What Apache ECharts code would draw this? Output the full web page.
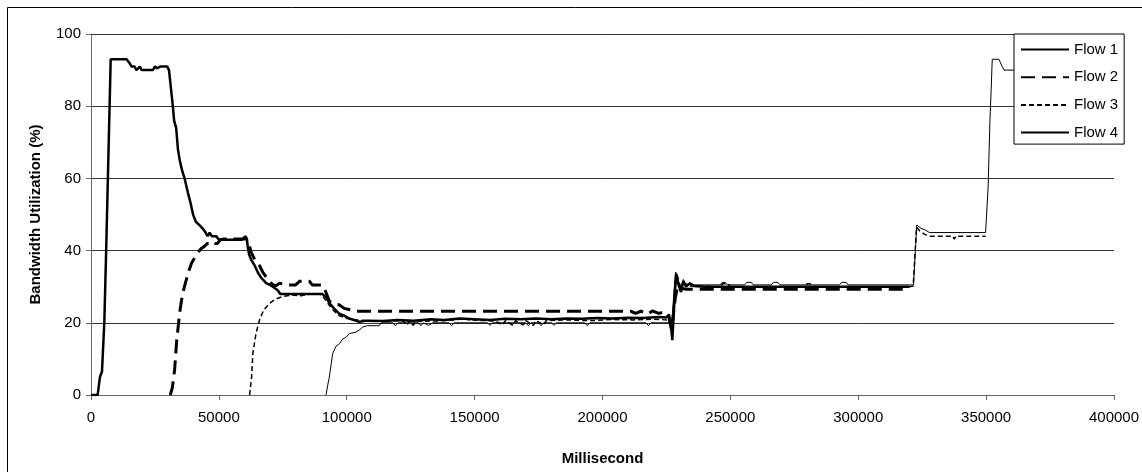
<!DOCTYPE html>
<html>
<head>
<meta charset="utf-8">
<script src="https://cdn.jsdelivr.net/npm/echarts@6/dist/echarts.min.js"></script>
<style>
  html, body { margin: 0; padding: 0; background: #fff; }
  #chart { width: 1142px; height: 472px; }
</style>
</head>
<body>
<div id="chart"></div>
<script>
// Bandwidth utilization (%) per flow over time (ms)
const flowNames = ['Flow 1', 'Flow 2', 'Flow 3', 'Flow 4'];
const xTicks = { min: 0, max: 400000, step: 50000 };
const yTicks = { min: 0, max: 100, step: 20 };

const flow1 = [
  [0,0],[2600,0],[3500,5],[4300,6.5],[5200,20],[6000,42],[7700,93],[13900,93],[15000,92],
  [15900,91],[17000,91],[17800,90],[18500,90],[19100,91],[19800,90],[24200,90],[25000,91],
  [25800,90.5],[26400,90],[27200,91],[29800,91],[30500,90],[31200,90],[32000,80],[32500,76],
  [33300,74],[34000,68],[34700,65],[35700,62],[36600,60],[37900,56],[39000,53],[39900,50],
  [41000,48],[42500,47],[43800,46],[44800,45],[45600,44],[46400,45],[47200,44],[49000,44],
  [50000,43],[59000,43],[59500,43.5],[60500,44],[61000,43],[61300,41],[61800,39],[62600,37.5],
  [63900,36],[65200,34],[66500,32.5],[68500,31],[70000,30.5],[71100,30],[73000,29],[74000,28],
  [90400,28],[92000,27],[93200,25.5],[95000,24],[97100,22.5],[99000,22],[101000,21.2],
  [104900,20.3],[108000,20.6],[114000,20.5],[120000,20.8],[126000,20.6],[133000,21],
  [138000,20.8],[144000,21.2],[150000,21],[156000,20.8],[162000,21.1],[168000,21],
  [174000,21.2],[180000,21],[186000,21.2],[192000,21.1],[198000,21.3],[204000,21.2],
  [210000,21.4],[216000,21.3],[222000,21.6],[225000,21.5],[226000,22.3],[226800,19],
  [227300,15.2],[228200,27],[228800,33.5],[229500,31],[230700,28.5],[231600,31.5],
  [232700,30],[234200,31],[235500,30.2],[240000,30],[270000,30],[300000,30],[320000,30]
];

const flow2 = [
  [31000,0],[31800,2],[32700,7],[33500,15],[34700,23],[35800,28],[37300,32],[38300,34.5],
  [39300,36.5],[40500,38],[41800,39.5],[43000,40.5],[44400,41.2],[45500,42],[46500,42],
  [47700,42.5],[48500,42],[49500,42],[50500,43],[52000,43.2],[60800,43.2],[61500,42.5],
  [62650,39.5],[64000,37.5],[65900,35.8],[67200,34],[69100,32],[71100,30.5],[72500,30.3],
  [73700,31],[76000,30.5],[80000,30.5],[81500,31.5],[85400,31.5],[86500,30.5],[90000,30.5],
  [91000,30],[93200,26],[95000,25.2],[97000,25],[99000,24],[102100,23.5],[103500,23.2],
  [211000,23.2],[213000,22.6],[215000,23.2],[218000,22.5],[219500,23.3],[222000,22.6],
  [224000,23],[226000,21.5],[227000,18],[228500,27],[229500,30.5],[231000,29.5],
  [233000,29.3],[320000,29.3]
];

const flow3 = [
  [62000,0],[62800,5],[63300,11.5],[64500,17],[65900,20.8],[67500,23.5],[69800,25.4],
  [72000,26.5],[75000,27.3],[78800,27.7],[82000,27.5],[86000,28],[89000,28],[90500,27.5],
  [92000,26],[94000,24],[97000,22],[100000,21.2],[104000,20.8],[110000,20.5],[116000,20.4],
  [122000,20.6],[123500,19.4],[124500,20.5],[126000,19.3],[127000,20.4],[135000,20.5],
  [143000,20.8],[145000,21.3],[148000,20.8],[158000,20.5],[161000,19.4],[162000,20.6],
  [165000,19.3],[166000,20.6],[169000,19.4],[170000,20.6],[173000,19.3],[174000,20.6],
  [177000,19.5],[178000,20.6],[186000,20.8],[195000,20.6],[204000,20.9],[212000,20.8],
  [220000,21],[225500,20.8],[226500,20],[227500,22],[228400,31],[229200,33],[230500,30],
  [232000,31],[234000,30.2],[246000,30],[247000,30.8],[249000,30.8],[250000,30],
  [279000,30],[280000,30.8],[281500,30.8],[282500,30],[320000,30],[321500,30.2],
  [322800,46.5],[324000,45.5],[326000,44.5],[328000,44],[337000,44],[337500,43.2],
  [338200,44],[349800,44]
];

const flow4 = [
  [91900,0],[92500,2.5],[93200,5],[94500,11.5],[95800,13.5],[97100,14.2],[98400,15.5],
  [99700,16],[101000,17],[103600,17.4],[104900,18],[106200,18.8],[108000,19.2],[112700,19.2],
  [113500,20],[118000,20],[119000,19.2],[120000,20],[128000,20],[129000,19.2],[130000,20],
  [132000,19.3],[133500,20],[140000,20],[141000,19.2],[142000,20],[155000,20],[156000,19.3],
  [157000,20],[170000,20],[171000,19.2],[172000,20],[175000,20],[176000,19.2],[177000,20],
  [180000,20],[181000,19.3],[182000,20],[193000,20],[194000,19.2],[195000,20],[217000,20],
  [218000,19.2],[219000,20],[226000,20],[227000,19],[228000,29],[228600,34],[229400,33],
  [230300,29],[231600,32],[232700,30.5],[234200,31],[236000,30.5],[246000,30.5],
  [246800,31.2],[248000,31.2],[248800,30.5],[255600,30.5],[256400,31.2],[258200,31.2],
  [259000,30.5],[266000,30.5],[266800,31.2],[268600,31.2],[269400,30.5],[292700,30.5],
  [293500,31.2],[295300,31.2],[296000,30.5],[320000,30.5],[321600,30.5],[322900,47.1],
  [324500,46.2],[326300,45.7],[327800,45],[349800,45],[350800,57.7],[351500,76],
  [352000,85],[352400,93],[355000,93],[356300,91],[357000,90],[366000,90]
];

const flowData = [flow1, flow2, flow3, flow4];
const flowStyles = [
  { width: 2.5, type: 'solid' },
  { width: 3, type: [14, 7] },
  { width: 1.5, type: [5, 3] },
  { width: 1, type: 'solid' }
];

const FONT = 'Liberation Sans, Arial, sans-serif';
const chart = echarts.init(document.getElementById('chart'), null, { renderer: 'canvas' });

chart.setOption({
  animation: false,
  backgroundColor: '#fff',
  textStyle: { fontFamily: FONT, color: '#000' },
  graphic: [{
    type: 'rect',
    shape: { x: 7.5, y: 7.5, width: 1140, height: 470 },
    style: { fill: 'none', stroke: '#000', lineWidth: 1 },
    silent: true, z: -1
  }],
  grid: { left: 91, right: 25, top: 34, bottom: 77, containLabel: false },
  legend: {
    orient: 'vertical',
    left: 1014, top: 34,
    padding: [8, 6, 4, 6],
    itemGap: 12.7,
    itemWidth: 48, itemHeight: 14,
    backgroundColor: '#fff',
    borderColor: '#000', borderWidth: 1,
    itemStyle: { opacity: 0 },
    textStyle: { fontFamily: FONT, fontSize: 15, color: '#000' },
    data: flowNames
  },
  xAxis: {
    type: 'value',
    min: xTicks.min, max: xTicks.max, interval: xTicks.step,
    name: 'Millisecond',
    nameLocation: 'middle', nameGap: 56,
    nameTextStyle: { fontFamily: FONT, fontSize: 15, fontWeight: 'bold', color: '#000' },
    axisLine: { lineStyle: { color: '#666', width: 1 } },
    axisTick: { show: true, length: 5, inside: false, lineStyle: { color: '#666' } },
    axisLabel: { fontFamily: FONT, fontSize: 15, color: '#000', margin: 15,
                 formatter: v => String(v) },
    splitLine: { show: false }
  },
  yAxis: {
    type: 'value',
    min: yTicks.min, max: yTicks.max, interval: yTicks.step,
    name: 'Bandwidth Utilization (%)',
    nameLocation: 'middle', nameGap: 48, nameRotate: 90,
    nameTextStyle: { fontFamily: FONT, fontSize: 15, fontWeight: 'bold', color: '#000' },
    axisLine: { show: true, lineStyle: { color: '#666', width: 1 } },
    axisTick: { show: true, length: 5, inside: false, lineStyle: { color: '#666' } },
    axisLabel: { fontFamily: FONT, fontSize: 15, color: '#000', margin: 10 },
    splitLine: { show: true, lineStyle: { color: '#333', width: 1 } }
  },
  series: flowNames.map((name, i) => ({
    name,
    type: 'line',
    data: flowData[i],
    showSymbol: false,
    symbol: 'none',
    color: '#000',
    lineStyle: { color: '#000', width: flowStyles[i].width, type: flowStyles[i].type },
    z: 2
  }))
});
</script>
</body>
</html>
